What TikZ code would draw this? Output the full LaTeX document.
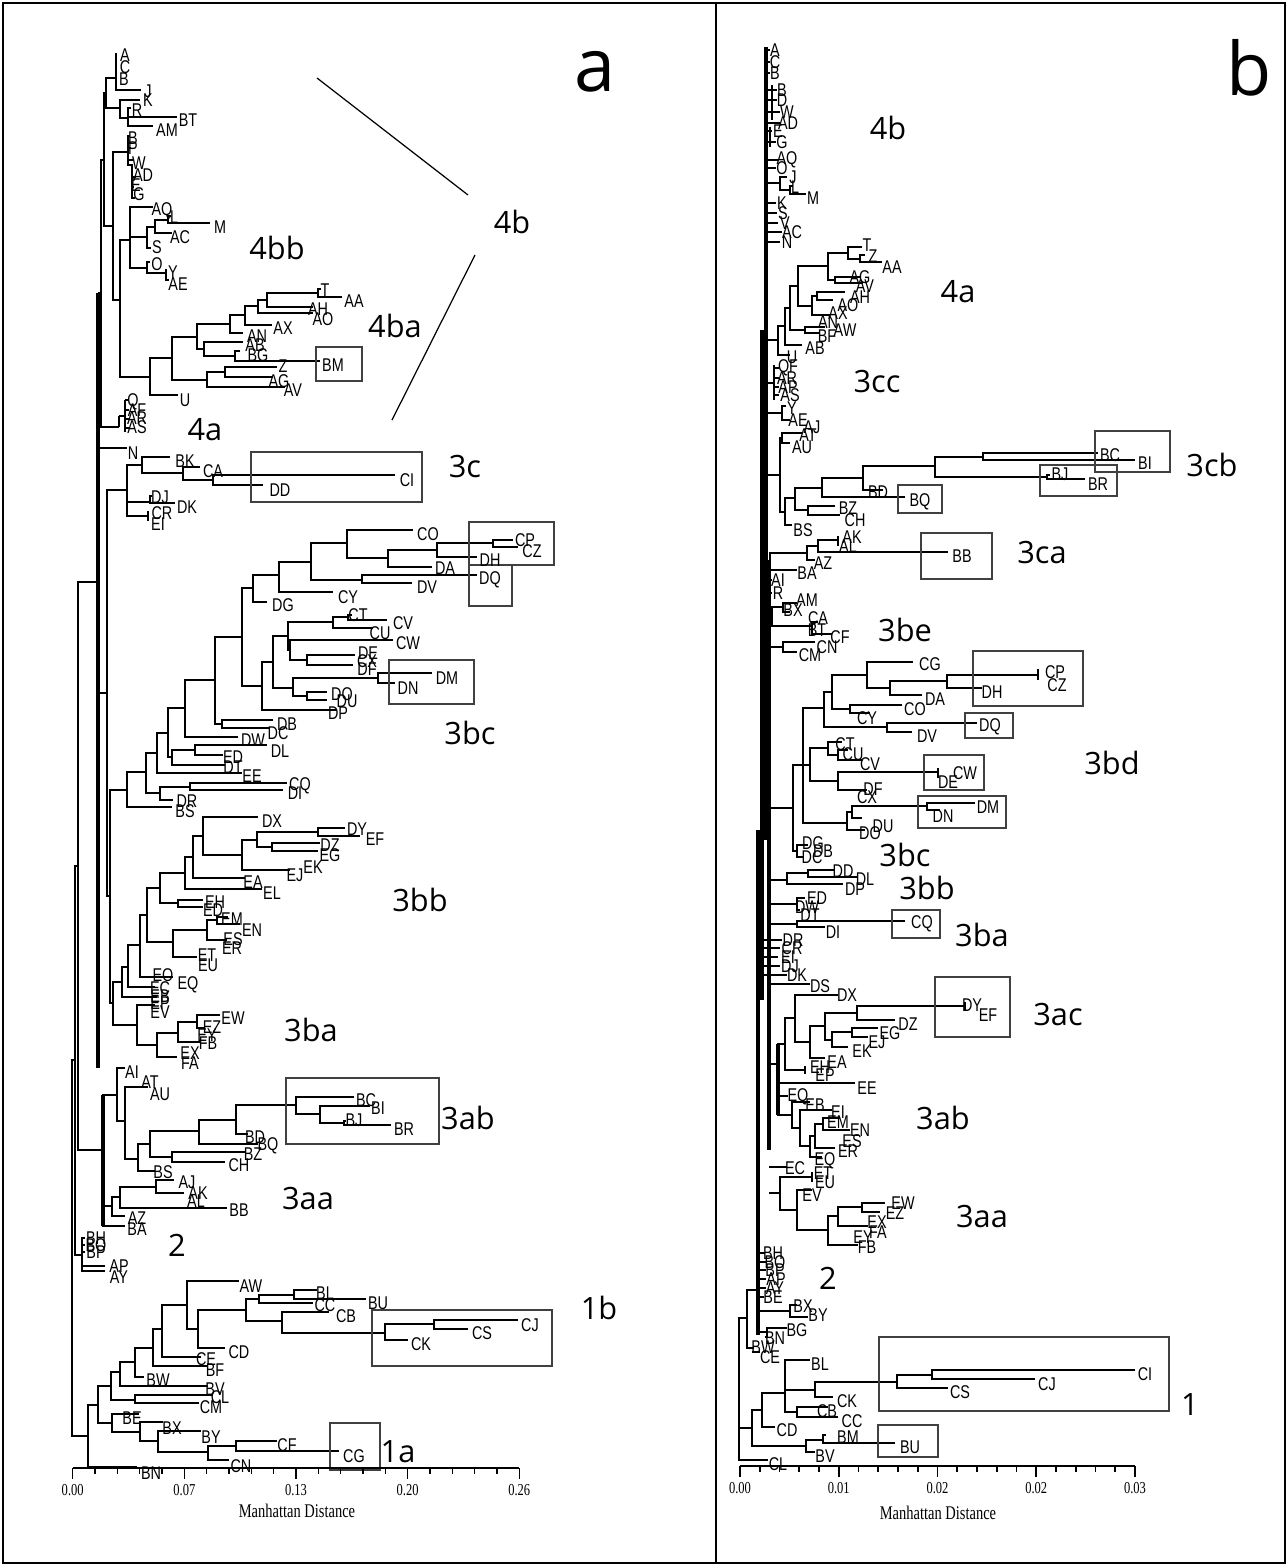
\documentclass[tikz,border=0pt]{standalone}
\usepackage{fontspec}
\setmainfont{Liberation Sans}
\newfontfamily\leaffont[FakeStretch=0.78]{Liberation Sans}
\newfontfamily\grpfont{Open Sans}
\newfontfamily\axfont[FakeStretch=0.75]{Liberation Serif}

\tikzset{
  br/.style={line width=1.4pt},
  spine/.style={line width=2.4pt},
  bx/.style={line width=0.6pt, draw=black!75},
  lf/.style={inner sep=0pt, font=\leaffont\fontsize{10.5}{10.5}\selectfont},
  grp/.style={inner sep=0pt, font=\grpfont\fontsize{17.5}{17.5}\selectfont},
  big/.style={inner sep=0pt, font=\grpfont\fontsize{42}{42}\selectfont},
  tkl/.style={inner sep=0pt, font=\axfont\fontsize{9.5}{9.5}\selectfont},
  axt/.style={inner sep=0pt, font=\axfont\fontsize{11}{11}\selectfont},
  axl/.style={line width=0.9pt},
}
% elbow of a dendrogram: node x, first child (x,y), second child (x,y)
\newcommand{\elb}[5]{\draw[br] (#2,#3) -- (#1,#3) -- (#1,#5) -- (#4,#5);}
\newcommand{\lfa}[3]{\node[lf] (a#3) at (#1,#2) {#3};}
\newcommand{\lfb}[3]{\node[lf] (b#3) at (#1,#2) {#3};}

\begin{document}
\begin{tikzpicture}[x=0.02cm,y=-0.02cm]
\useasboundingbox (0,0) rectangle (1288,1566);
\draw[line width=0.8pt] (3,3) rectangle (1285,1563);
\draw[line width=0.8pt] (716,3) -- (716,1563);

%% ---------------- panel a ----------------
% 4bb
\draw[br] (116,53) -- (116,90) -- (141,90);
\elb{106}{116}{78}{120}{108}
\elb{120}{140}{100}{128}{118}
\draw[br] (131,108) -- (128,108) -- (128,126) -- (153,126);
\draw[br] (128,117) -- (177,117);
\draw[br] (130,136) -- (128,136) -- (128,165) -- (132,165) -- (132,198) -- (135,198);
\draw[br] (128,148) -- (131,148);
\draw[br] (128,160) -- (133,160);
\draw[br] (132,177) -- (136,177);
\draw[br] (132,187) -- (134,187);
\elb{113}{128}{152}{120}{300}
\elb{130}{153}{207}{147}{268}
\draw[br] (130,237) -- (147,237);
\elb{147}{155}{227}{151}{248}
\elb{155}{168}{220}{172}{233}
\elb{168}{171}{216}{210}{223}
\elb{147}{150}{262}{166}{273}
\draw[br] (166,269) -- (166,281);
\draw[br] (166,280) -- (169,280);
\elb{120}{130}{240}{150}{377}
% 4ba
\elb{318}{321}{289}{342}{297}
\elb{267}{318}{293}{313}{307}
\elb{258}{267}{300}{313}{313}
\elb{245}{258}{306}{272}{325}
\elb{230}{245}{315}{243}{333}
\elb{235}{240}{351}{320}{361}
\elb{204}{243}{342}{235}{356}
\elb{197}{230}{324}{204}{349}
\elb{225}{277}{367}{273}{377}
\elb{207}{225}{372}{285}{387}
\elb{172}{197}{337}{207}{380}
\elb{150}{172}{358}{178}{395}
% 4b / 4a backbone
\elb{104}{106}{93}{113}{226}
\elb{101}{104}{160}{119}{427}
\draw[br] (119,416) -- (119,427);
\draw[br] (119,416) -- (125,416);
\draw[br] (125,400) -- (125,432);
\foreach \yy in {400,410,419,428} { \draw[br] (125,\yy) -- (129,\yy); }
\draw[spine] (98,293) -- (98,1068);
\draw[br] (98,293) -- (101,293);
\draw[br] (98,448) -- (127,448);
\draw[br] (98,693) -- (107,693);
% 3c
\elb{213}{395}{475}{263}{485}
\elb{183}{200}{467}{213}{480}
\elb{142}{170}{457}{183}{473}
\elb{127}{142}{465}{148}{516}
\draw[br] (127,502) -- (150,502);
\elb{150}{152}{496}{175}{503}
\draw[br] (148,511) -- (148,521);
\elb{107}{127}{490}{110}{896}
% 3bc
\elb{493}{513}{540}{518}{547}
\elb{437}{493}{543}{477}{557}
\elb{388}{437}{550}{432}{567}
\elb{347}{413}{530}{388}{558}
\elb{362}{477}{575}{412}{583}
\elb{311}{347}{543}{362}{580}
\elb{279}{311}{562}{333}{592}
\elb{253}{279}{575}{267}{602}
\elb{348}{352}{615}{387}{620}
\elb{333}{348}{617}{373}{628}
\elb{307}{355}{655}{353}{665}
\elb{290}{393}{640}{307}{660}
\elb{288}{333}{622}{290}{650}
\elb{378}{432}{673}{395}{683}
\elb{307}{327}{692}{327}{700}
\elb{293}{378}{678}{307}{696}
\elb{273}{288}{636}{293}{688}
\elb{262}{273}{662}{337}{710}
\elb{242}{253}{588}{262}{686}
\elb{222}{273}{720}{270}{728}
\elb{215}{242}{637}{222}{724}
\elb{185}{215}{680}{238}{737}
\elb{195}{267}{745}{223}{755}
\elb{172}{195}{750}{225}{765}
\elb{168}{185}{708}{172}{757}
\elb{157}{168}{733}{242}{773}
\elb{190}{287}{783}{283}{790}
\elb{160}{190}{787}{173}{800}
\elb{146}{157}{753}{160}{793}
\elb{127}{146}{772}{172}{807}
% 3bb
\elb{318}{345}{828}{360}{836}
\elb{272}{320}{843}{318}{851}
\elb{257}{318}{832}{272}{847}
\elb{242}{257}{840}{290}{870}
\elb{203}{258}{817}{242}{855}
\elb{193}{203}{836}{245}{878}
\elb{185}{193}{857}{262}{889}
\elb{178}{203}{900}{203}{907}
\elb{160}{185}{873}{178}{903}
\elb{217}{228}{917}{240}{924}
\elb{207}{217}{920}{227}{940}
\elb{173}{207}{930}{197}{957}
\elb{147}{160}{888}{173}{942}
\elb{140}{147}{915}{173}{977}
\elb{128}{140}{945}{155}{987}
\elb{122}{128}{967}{157}{997}
% 3ba
\elb{197}{220}{1015}{205}{1028}
\elb{178}{197}{1022}{200}{1042}
\elb{157}{178}{1033}{177}{1057}
\elb{137}{155}{1005}{157}{1045}
\elb{113}{122}{982}{137}{1025}
\elb{110}{127}{790}{113}{1003}
% 3ab, 3aa
\elb{344}{346}{1121}{391}{1125}
\elb{320}{370}{1106}{344}{1123}
\elb{296}{354}{1097}{320}{1114}
\elb{236}{296}{1105}{248}{1134}
\elb{199}{236}{1120}{258}{1144}
\elb{172}{246}{1152}{225}{1162}
\elb{150}{199}{1131}{172}{1157}
\elb{138}{150}{1144}{155}{1171}
\elb{125}{148}{1087}{138}{1159}
\elb{117}{125}{1068}{125}{1121}
\elb{156}{174}{1180}{184}{1193}
\elb{120}{156}{1187}{227}{1208}
\elb{112}{120}{1197}{125}{1216}
\draw[spine] (103,1095) -- (103,1226);
\elb{103}{117}{1095}{125}{1226}
\draw[br] (103,1206) -- (112,1206);
% 2 and root
\elb{78}{98}{582}{103}{1150}
\elb{82}{85}{1238}{105}{1266}
\draw[br] (82,1245) -- (85,1245);
\draw[br] (82,1252) -- (85,1252);
\draw[br] (82,1266) -- (82,1271) -- (105,1271);
\elb{75}{78}{866}{82}{1255}
% 1b, 1a
\elb{294}{317}{1290}{366}{1299}
\elb{259}{294}{1295}{313}{1303}
\elb{434}{518}{1320}{468}{1329}
\elb{385}{434}{1324}{408}{1340}
\elb{282}{329}{1312}{385}{1333}
\elb{246}{259}{1299}{282}{1321}
\elb{198}{246}{1310}{225}{1348}
\elb{187}{239}{1281}{198}{1329}
\elb{162}{187}{1305}{201}{1357}
\elb{153}{162}{1329}{208}{1366}
\elb{135}{153}{1348}{144}{1377}
\elb{120}{135}{1362}{208}{1386}
\elb{135}{213}{1395}{199}{1403}
\elb{111}{120}{1372}{135}{1400}
\elb{236}{277}{1441}{339}{1451}
\elb{208}{236}{1446}{229}{1460}
\elb{158}{201}{1431}{208}{1452}
\elb{140}{163}{1422}{158}{1441}
\elb{112}{139}{1414}{140}{1432}
\elb{98}{111}{1386}{112}{1423}
\elb{88}{98}{1405}{137}{1467}
\elb{72}{75}{1060}{88}{1436}

% boxes a
\draw[bx] (316,347) rectangle (362,381);
\draw[bx] (251,452) rectangle (422,502);
\draw[bx] (469,522) rectangle (554,565);
\draw[bx] (469,565) rectangle (512,606);
\draw[bx] (389,660) rectangle (474,704);
\draw[bx] (286,1078) rectangle (439,1144);
\draw[bx] (372,1310) rectangle (552,1366);
\draw[bx] (330,1423) rectangle (380,1470);
\draw[line width=0.7pt] (317,78) -- (468,195);
\draw[line width=0.7pt] (475,255) -- (392,420);

% leaves a
\lfa{125}{55}{A} \lfa{125}{67}{C} \lfa{124}{79}{B} \lfa{148}{91}{J}
\lfa{148}{100}{K} \lfa{137}{110}{R} \lfa{188}{120}{BT} \lfa{167}{130}{AM}
\lfa{133}{138}{B} \lfa{133}{148}{P} \lfa{139}{163}{W} \lfa{143}{175}{AD}
\lfa{136}{185}{E} \lfa{139}{194}{G}
\lfa{162}{211}{AQ} \lfa{174}{217}{L} \lfa{220}{227}{M} \lfa{180}{237}{AC}
\lfa{157}{247}{S} \lfa{157}{264}{O} \lfa{173}{272}{Y} \lfa{178}{284}{AE}
\lfa{325}{290}{T} \lfa{354}{301}{AA} \lfa{318}{309}{AH} \lfa{323}{319}{AO}
\lfa{283}{328}{AX} \lfa{257}{336}{AN} \lfa{255}{345}{AB} \lfa{258}{355}{BG}
\lfa{333}{365}{BM} \lfa{283}{366}{Z} \lfa{279}{381}{AG} \lfa{293}{390}{AV}
\lfa{185}{400}{U}
\lfa{133}{402}{Q} \lfa{137}{410}{AF} \lfa{137}{418}{AR} \lfa{137}{427}{AS}
\lfa{133}{453}{N}
\lfa{185}{461}{BK} \lfa{213}{471}{CA} \lfa{407}{480}{CI} \lfa{280}{490}{DD}
\lfa{160}{497}{DJ} \lfa{187}{507}{DK} \lfa{162}{513}{CR} \lfa{158}{524}{EI}
\lfa{428}{534}{CO} \lfa{525}{540}{CP} \lfa{532}{551}{CZ} \lfa{490}{560}{DH}
\lfa{445}{568}{DA} \lfa{490}{580}{DQ} \lfa{427}{587}{DV} \lfa{348}{597}{CY}
\lfa{283}{605}{DG}
\lfa{358}{615}{CT} \lfa{403}{623}{CV} \lfa{380}{633}{CU} \lfa{408}{643}{CW}
\lfa{368}{653}{DE} \lfa{367}{661}{CX} \lfa{367}{669}{DF} \lfa{447}{678}{DM}
\lfa{408}{688}{DN} \lfa{342}{694}{DO} \lfa{347}{701}{DU} \lfa{338}{713}{DP}
\lfa{287}{724}{DB} \lfa{278}{733}{DC} \lfa{253}{740}{DW} \lfa{280}{751}{DL}
\lfa{233}{757}{ED} \lfa{233}{767}{DT} \lfa{252}{776}{EE} \lfa{300}{786}{CQ}
\lfa{295}{793}{DI} \lfa{187}{801}{DR} \lfa{185}{811}{BS}
\lfa{272}{821}{DX} \lfa{357}{829}{DY} \lfa{375}{839}{EF} \lfa{330}{845}{DZ}
\lfa{330}{855}{EG} \lfa{313}{867}{EK} \lfa{295}{875}{EJ} \lfa{253}{882}{EA}
\lfa{272}{893}{EL}
\lfa{215}{902}{EH} \lfa{213}{910}{ED} \lfa{232}{919}{EM} \lfa{252}{930}{EN}
\lfa{233}{939}{ES} \lfa{232}{948}{ER} \lfa{207}{955}{ET} \lfa{208}{965}{EU}
\lfa{163}{975}{EO} \lfa{188}{985}{EQ} \lfa{160}{988}{EC} \lfa{160}{996}{EB}
\lfa{160}{1003}{EP} \lfa{160}{1012}{EV}
\lfa{233}{1018}{EW} \lfa{212}{1027}{EZ} \lfa{207}{1035}{EY} \lfa{208}{1043}{FB}
\lfa{190}{1053}{EX} \lfa{190}{1063}{FA}
\lfa{132}{1072}{AI} \lfa{150}{1082}{AT} \lfa{160}{1094}{AU}
\lfa{366}{1100}{BC} \lfa{378}{1108}{BI} \lfa{354}{1120}{BJ} \lfa{404}{1129}{BR}
\lfa{255}{1137}{BD} \lfa{268}{1146}{BQ} \lfa{253}{1154}{BZ} \lfa{239}{1165}{CH}
\lfa{163}{1172}{BS} \lfa{187}{1182}{AJ} \lfa{198}{1193}{AK} \lfa{196}{1201}{AL}
\lfa{239}{1210}{BB} \lfa{137}{1218}{AZ} \lfa{137}{1229}{BA}
\lfa{96}{1238}{BH} \lfa{96}{1245}{BO} \lfa{96}{1252}{BP} \lfa{119}{1266}{AP}
\lfa{119}{1277}{AY}
\lfa{251}{1286}{AW} \lfa{325}{1293}{BL} \lfa{378}{1303}{BU} \lfa{325}{1305}{CC}
\lfa{346}{1316}{CB} \lfa{530}{1325}{CJ} \lfa{482}{1333}{CS} \lfa{421}{1344}{CK}
\lfa{239}{1352}{CD} \lfa{206}{1359}{CE} \lfa{215}{1370}{BF} \lfa{158}{1380}{BW}
\lfa{215}{1389}{BV} \lfa{220}{1397}{CL} \lfa{211}{1407}{CM} \lfa{132}{1418}{BE}
\lfa{172}{1428}{BX} \lfa{211}{1437}{BY} \lfa{287}{1445}{CF} \lfa{354}{1456}{CG}
\lfa{241}{1466}{CN} \lfa{151}{1473}{BN}

% group labels a
\node[big] (pa) at (595,72) {a};
\node[grp] (ga4b) at (512,222) {4b};
\node[grp] (ga4bb) at (277,248) {4bb};
\node[grp] (ga4ba) at (395,326) {4ba};
\node[grp] (ga4a) at (205,430) {4a};
\node[grp] (ga3c) at (465,467) {3c};
\node[grp] (ga3bc) at (470,733) {3bc};
\node[grp] (ga3bb) at (420,900) {3bb};
\node[grp] (ga3ba) at (311,1030) {3ba};
\node[grp] (ga3ab) at (468,1118) {3ab};
\node[grp] (ga3aa) at (308,1199) {3aa};
\node[grp] (ga2) at (177,1245) {2};
\node[grp] (ga1b) at (599,1308) {1b};
\node[grp] (ga1a) at (398,1452) {1a};

% axis a
\draw[axl] (72.7,1468) -- (519,1468);
\foreach \i in {0,...,20} {
  \pgfmathsetmacro\xx{72.7+\i*22.33}
  \pgfmathsetmacro\len{ifthenelse(mod(\i,5)==0,11,6)}
  \draw[axl] (\xx,1468) -- (\xx,{1468+\len});
}
\foreach \v [count=\k from 0] in {0.00,0.07,0.13,0.20,0.26}
  \node[tkl] at ({72.7+\k*111.65},1490) {\v};
\node[axt] (ta) at (297,1511) {Manhattan Distance};

%% ---------------- panel b ----------------
\draw[spine] (766,47) -- (766,840);
\draw[spine] (762,330) -- (762,1000);
\draw[spine] (769,560) -- (769,1150);
\draw[spine] (758,830) -- (758,1335);
\draw[spine] (778,1044) -- (778,1115);
% 4b
\foreach \yy/\xe in {50/770,62/770,73/770,90/777,100/777,112/780,123/780,131/772,142/776,160/778,168/776,203/776,213/777,223/778,232/782,242/780}
  { \draw[br] (766,\yy) -- (\xe,\yy); }
\draw[br] (772,85) -- (772,120);
\draw[br] (770,127) -- (770,147);
\elb{780}{787}{177}{790}{190}
\elb{790}{793}{186}{806}{194}
\draw[br] (766,183) -- (780,183);
% 4a
\elb{860}{865}{255}{882}{262}
\elb{848}{862}{247}{860}{259}
\elb{835}{860}{277}{863}{283}
\elb{828}{848}{253}{835}{280}
\elb{817}{845}{292}{833}{300}
\elb{812}{817}{296}{830}{315}
\elb{805}{825}{327}{820}{333}
\elb{798}{828}{266}{812}{306}
\elb{790}{798}{286}{805}{330}
\elb{785}{790}{308}{802}{345}
\elb{778}{785}{326}{790}{355}
\draw[br] (766,340) -- (778,340);
% 3cc
\draw[br] (774,365) -- (774,400);
\foreach \yy in {368,378,387,395} { \draw[br] (774,\yy) -- (779,\yy); }
\draw[br] (766,383) -- (774,383);
\elb{782}{786}{406}{790}{420}
\draw[br] (766,413) -- (782,413);
\elb{782}{802}{433}{790}{443}
% 3cb
\elb{983}{1098}{453}{1135}{460}
\elb{1047}{1050}{475}{1085}{479}
\elb{935}{983}{457}{1047}{477}
\elb{863}{935}{466}{883}{490}
\elb{822}{863}{478}{905}{497}
\elb{808}{835}{506}{840}{515}
\elb{795}{822}{488}{808}{510}
\elb{785}{795}{498}{792}{525}
\elb{780}{782}{438}{785}{512}
\draw[br] (766,475) -- (780,475);
% 3ca
\elb{818}{838}{540}{948}{552}
\draw[br] (838,536) -- (838,546);
\elb{807}{818}{546}{815}{560}
\elb{770}{807}{553}{797}{570}
\draw[br] (766,562) -- (770,562);
% 3be
\draw[br] (766,580) -- (772,580);
\draw[br] (766,593) -- (772,593);
\elb{783}{797}{603}{790}{612}
\elb{772}{783}{607}{812}{626}
\elb{812}{818}{622}{832}{634}
\elb{783}{815}{642}{797}{652}
\draw[br] (766,616) -- (772,616);
\draw[br] (769,647) -- (783,647);
% 3bd, 3bc
\draw[br] (1038,669) -- (1038,680);
\elb{947}{1038}{675}{982}{688}
\elb{890}{947}{681}{922}{695}
\elb{867}{913}{662}{890}{688}
\elb{850}{902}{705}{870}{713}
\elb{832}{867}{675}{850}{709}
\elb{887}{977}{723}{912}{732}
\elb{824}{832}{692}{887}{727}
\elb{838}{848}{750}{863}{760}
\elb{828}{842}{742}{838}{755}
\draw[br] (938,768) -- (938,778);
\elb{838}{938}{772}{867}{790}
\elb{810}{828}{748}{838}{781}
\elb{927}{975}{803}{940}{810}
\elb{852}{927}{806}{862}{818}
\elb{847}{852}{812}{865}{830}
\elb{803}{824}{708}{847}{823}
\draw[br] (803,765) -- (810,765);
\elb{797}{808}{845}{803}{857}
\elb{793}{803}{765}{797}{851}
\draw[br] (769,808) -- (793,808);
% 3bb, 3ba
\elb{808}{835}{870}{858}{877}
\elb{787}{808}{873}{843}{884}
\elb{797}{805}{898}{800}{910}
\draw[br] (769,880) -- (787,880);
\draw[br] (769,904) -- (797,904);
\elb{797}{905}{921}{825}{927}
\draw[br] (769,924) -- (797,924);
\foreach \yy/\xe in {940/782,948/780,957/778,966/780,975/787}
  { \draw[br] (762,\yy) -- (\xe,\yy); }
\draw[br] (769,984) -- (810,984);
% 3ac
\elb{857}{965}{1006}{895}{1020}
\draw[br] (965,1002) -- (965,1010);
\elb{852}{878}{1028}{868}{1037}
\elb{832}{852}{1032}{848}{1047}
\elb{825}{857}{1013}{832}{1040}
\elb{810}{825}{1026}{825}{1058}
\elb{795}{838}{995}{810}{1042}
\draw[br] (785,1070) -- (805,1070);
\draw[br] (805,1066) -- (805,1074);
\elb{785}{795}{1018}{805}{1070}
\elb{778}{785}{1044}{855}{1083}
\draw[br] (769,1064) -- (778,1064);
% 3ab
\elb{823}{840}{1118}{850}{1130}
\elb{815}{823}{1124}{835}{1148}
\elb{810}{815}{1136}{822}{1157}
\elb{800}{832}{1110}{810}{1146}
\elb{792}{810}{1102}{800}{1128}
\elb{778}{788}{1096}{792}{1115}
% 3aa
\elb{862}{885}{1203}{880}{1212}
\elb{838}{862}{1207}{868}{1226}
\elb{828}{838}{1216}{858}{1245}
\elb{797}{812}{1190}{828}{1230}
\draw[br] (812,1172) -- (812,1182);
\elb{780}{812}{1177}{797}{1210}
\draw[br] (769,1167) -- (787,1167);
\draw[br] (769,1193) -- (780,1193);
% 2
\foreach \yy/\xe in {1253/765,1262/766,1270/766,1279/766,1288/766,1297/764}
  { \draw[br] (758,\yy) -- (\xe,\yy); }
\elb{790}{797}{1305}{808}{1317}
\draw[br] (758,1311) -- (790,1311);
\elb{767}{787}{1328}{765}{1337}
\draw[br] (758,1332) -- (767,1332);
\elb{747}{758}{1290}{754}{1348}
\draw[br] (752,1352) -- (760,1352);
% 1
\elb{932}{1135}{1370}{1035}{1379}
\elb{897}{932}{1375}{948}{1388}
\elb{815}{897}{1382}{833}{1397}
\elb{797}{828}{1407}{838}{1417}
\elb{785}{810}{1360}{797}{1412}
\draw[br] (785,1390) -- (815,1390);
\elb{762}{785}{1393}{775}{1427}
\elb{823}{826}{1435}{895}{1443}
\elb{806}{823}{1440}{815}{1452}
\elb{752}{762}{1410}{806}{1446}
\elb{739}{747}{1318}{768}{1460}
\draw[br] (739,1428) -- (752,1428);

% boxes b
\draw[bx] (1095,431) rectangle (1170,472);
\draw[bx] (1040,465) rectangle (1117,496);
\draw[bx] (898,485) rectangle (942,513);
\draw[bx] (921,533) rectangle (992,579);
\draw[bx] (973,651) rectangle (1083,706);
\draw[bx] (965,713) rectangle (1013,738);
\draw[bx] (924,755) rectangle (984,790);
\draw[bx] (918,796) rectangle (1006,828);
\draw[bx] (892,910) rectangle (940,938);
\draw[bx] (935,977) rectangle (1010,1037);
\draw[bx] (879,1337) rectangle (1169,1411);
\draw[bx] (878,1425) rectangle (938,1457);

% leaves b
\lfb{775}{50}{A} \lfb{775}{62}{C} \lfb{775}{73}{B} \lfb{782}{90}{B}
\lfb{782}{100}{D} \lfb{787}{112}{W} \lfb{788}{123}{AD} \lfb{778}{131}{E}
\lfb{782}{142}{G} \lfb{787}{160}{AQ} \lfb{782}{168}{O} \lfb{793}{177}{J}
\lfb{795}{187}{L} \lfb{813}{198}{M} \lfb{782}{203}{K} \lfb{783}{213}{S}
\lfb{785}{223}{V} \lfb{792}{232}{AC} \lfb{787}{242}{N}
\lfb{867}{245}{T} \lfb{873}{256}{Z} \lfb{892}{267}{AA} \lfb{860}{277}{AG}
\lfb{865}{286}{AV} \lfb{860}{297}{AH} \lfb{848}{305}{AO} \lfb{838}{313}{AX}
\lfb{828}{322}{AN} \lfb{845}{330}{AW} \lfb{827}{336}{BF} \lfb{815}{348}{AB}
\lfb{792}{357}{U}
\lfb{788}{368}{QF} \lfb{787}{378}{AR} \lfb{788}{387}{AP} \lfb{790}{395}{AS}
\lfb{792}{408}{Y} \lfb{798}{420}{AE} \lfb{812}{427}{AJ} \lfb{808}{435}{AT}
\lfb{802}{447}{AU}
\lfb{1110}{455}{BC} \lfb{1145}{463}{BI} \lfb{1060}{474}{BJ} \lfb{1098}{484}{BR}
\lfb{878}{492}{BD} \lfb{920}{502}{BQ} \lfb{848}{508}{BZ} \lfb{855}{520}{CH}
\lfb{803}{530}{BS}
\lfb{852}{537}{AK} \lfb{848}{546}{AL} \lfb{962}{556}{BB} \lfb{823}{563}{AZ}
\lfb{807}{573}{BA}
\lfb{778}{580}{AI} \lfb{778}{593}{R} \lfb{807}{600}{AM} \lfb{793}{610}{BX}
\lfb{818}{618}{CA} \lfb{817}{630}{BT} \lfb{840}{637}{CF} \lfb{827}{647}{CN}
\lfb{810}{655}{CM}
\lfb{930}{664}{CG} \lfb{1055}{672}{CP} \lfb{1057}{685}{CZ} \lfb{992}{692}{DH}
\lfb{935}{699}{DA} \lfb{915}{709}{CO} \lfb{867}{718}{CY} \lfb{990}{727}{DQ}
\lfb{927}{736}{DV}
\lfb{845}{744}{CT} \lfb{853}{754}{CU} \lfb{870}{764}{CV} \lfb{965}{773}{CW}
\lfb{948}{782}{DE} \lfb{873}{789}{DF} \lfb{867}{797}{CX} \lfb{988}{807}{DM}
\lfb{943}{816}{DN} \lfb{883}{826}{DU} \lfb{870}{833}{DO}
\lfb{813}{843}{DG} \lfb{823}{851}{DB} \lfb{812}{857}{DC} \lfb{843}{871}{DD}
\lfb{865}{879}{DL} \lfb{855}{889}{DP} \lfb{817}{898}{ED} \lfb{807}{907}{DW}
\lfb{810}{915}{DT} \lfb{922}{924}{CQ} \lfb{833}{932}{DI}
\lfb{793}{940}{DR} \lfb{792}{948}{CR} \lfb{788}{957}{EI} \lfb{790}{966}{DJ}
\lfb{797}{975}{DK} \lfb{820}{986}{DS} \lfb{847}{995}{DX}
\lfb{972}{1005}{DY} \lfb{988}{1015}{EF} \lfb{908}{1024}{DZ} \lfb{890}{1033}{EG}
\lfb{877}{1042}{EJ} \lfb{862}{1051}{EK} \lfb{837}{1062}{EA} \lfb{820}{1067}{EH}
\lfb{825}{1075}{EP} \lfb{867}{1088}{EE}
\lfb{798}{1097}{EQ} \lfb{815}{1105}{EB} \lfb{838}{1112}{EI} \lfb{838}{1122}{EM}
\lfb{860}{1130}{EN} \lfb{852}{1141}{ES} \lfb{848}{1151}{ER} \lfb{825}{1161}{EQ}
\lfb{795}{1168}{EC} \lfb{823}{1173}{ET} \lfb{825}{1182}{EU} \lfb{812}{1195}{EV}
\lfb{903}{1203}{EW} \lfb{895}{1213}{EZ} \lfb{877}{1222}{EX} \lfb{878}{1232}{FA}
\lfb{863}{1237}{EY} \lfb{867}{1247}{FB}
\lfb{773}{1253}{BH} \lfb{775}{1262}{BO} \lfb{775}{1270}{BP} \lfb{776}{1279}{AP}
\lfb{775}{1288}{AY} \lfb{773}{1297}{BE} \lfb{803}{1306}{BX} \lfb{818}{1315}{BY}
\lfb{797}{1330}{BG} \lfb{775}{1338}{BN} \lfb{763}{1347}{BW} \lfb{770}{1357}{CE}
\lfb{820}{1364}{BL} \lfb{1145}{1374}{CI} \lfb{1047}{1384}{CJ} \lfb{960}{1392}{CS}
\lfb{847}{1401}{CK} \lfb{827}{1411}{CB} \lfb{852}{1421}{CC} \lfb{787}{1430}{CD}
\lfb{848}{1437}{BM} \lfb{910}{1447}{BU} \lfb{825}{1456}{BV} \lfb{778}{1464}{CL}

% group labels b
\node[big] (pb) at (1249,68) {b};
\node[grp] (gb4b) at (888,128) {4b};
\node[grp] (gb4a) at (958,292) {4a};
\node[grp] (gb3cc) at (877,382) {3cc};
\node[grp] (gb3cb) at (1212,465) {3cb};
\node[grp] (gb3ca) at (1042,553) {3ca};
\node[grp] (gb3be) at (905,630) {3be};
\node[grp] (gb3bd) at (1112,763) {3bd};
\node[grp] (gb3bc) at (905,855) {3bc};
\node[grp] (gb3bb) at (927,888) {3bb};
\node[grp] (gb3ba) at (982,935) {3ba};
\node[grp] (gb3ac) at (1058,1015) {3ac};
\node[grp] (gb3ab) at (943,1118) {3ab};
\node[grp] (gb3aa) at (982,1217) {3aa};
\node[grp] (gb2) at (828,1278) {2};
\node[grp] (gb1) at (1190,1405) {1};

% axis b
\draw[axl] (740,1466) -- (1135,1466);
\foreach \i in {0,...,20} {
  \pgfmathsetmacro\xx{740+\i*19.75}
  \pgfmathsetmacro\len{ifthenelse(mod(\i,5)==0,11,6)}
  \draw[axl] (\xx,1466) -- (\xx,{1466+\len});
}
\foreach \v [count=\k from 0] in {0.00,0.01,0.02,0.02,0.03}
  \node[tkl] at ({740+\k*98.75},1488) {\v};
\node[axt] (tb) at (938,1513) {Manhattan Distance};
\end{tikzpicture}
\end{document}
